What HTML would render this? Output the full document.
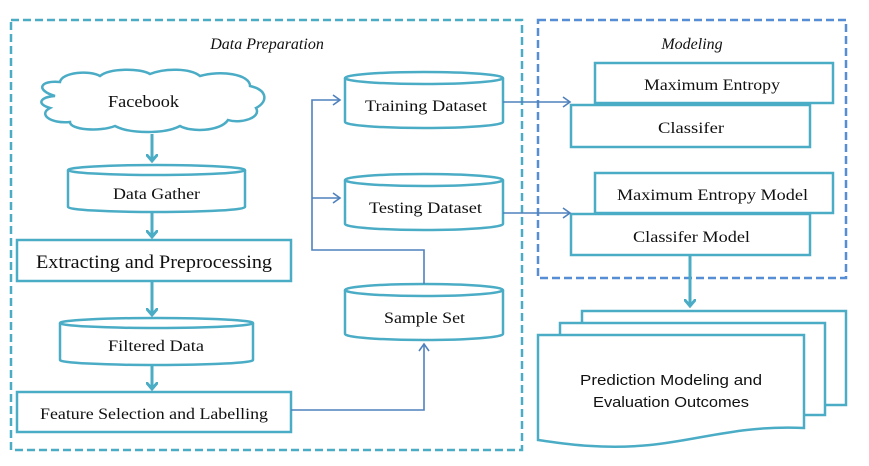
<!DOCTYPE html>
<html><head><meta charset="utf-8"><style>
html,body{margin:0;padding:0;background:#fff;}
svg{display:block;}
text{font-family:"Liberation Serif",serif;fill:#111;}
</style></head><body>
<svg width="869" height="466" viewBox="0 0 869 466" xmlns="http://www.w3.org/2000/svg">
<defs>
<marker id="ac" markerWidth="12" markerHeight="12" refX="6" refY="6" orient="auto" markerUnits="userSpaceOnUse"><path d="M0,0 L7,6 L0,12" fill="none" stroke="#4bacc6" stroke-width="3"/></marker>
<marker id="ab" markerWidth="12" markerHeight="12" refX="8" refY="6" orient="auto" markerUnits="userSpaceOnUse"><path d="M1,1 L8,6 L1,11" fill="none" stroke="#4f81bd" stroke-width="1.6"/></marker>
</defs>
<g fill="none">
<rect x="11" y="20" width="511" height="430" stroke="#4bacc6" stroke-width="2.5" stroke-dasharray="8,4"/>
<rect x="538" y="20" width="308" height="258" stroke="#558ed5" stroke-width="2.5" stroke-dasharray="8,4"/>
</g>
<text x="267" y="49" font-size="16" font-style="italic" text-anchor="middle">Data Preparation</text>
<text x="692" y="49" font-size="16" font-style="italic" text-anchor="middle">Modeling</text>
<path d="M55,96 C35,90 40,80 60,82 C62,72 90,70 100,76 C110,68 140,68 150,74 C165,68 190,68 200,76 C220,70 250,74 250,86 C268,90 268,102 256,108 C262,118 240,124 228,120 C220,132 190,132 180,126 C165,134 130,134 115,126 C100,132 70,130 70,122 C50,124 38,114 50,108 C36,104 40,97 55,96 Z" fill="#fff" stroke="#4bacc6" stroke-width="2.5"/>
<text x="108" y="107" font-size="17" textLength="71" lengthAdjust="spacingAndGlyphs">Facebook</text>
<g stroke="#4bacc6" stroke-width="3" fill="none">
<line x1="152" y1="134" x2="152" y2="160" marker-end="url(#ac)"/>
<line x1="152" y1="213" x2="152" y2="236" marker-end="url(#ac)"/>
<line x1="152" y1="282" x2="152" y2="314" marker-end="url(#ac)"/>
<line x1="152" y1="366" x2="152" y2="388" marker-end="url(#ac)"/>
<line x1="690" y1="256" x2="690" y2="305" marker-end="url(#ac)"/>
</g>
<g fill="#fff" stroke="#4bacc6" stroke-width="2.5">
<path d="M68,170 A88,5 0 0 1 245,170 L245,207 A88,5 0 0 1 68,207 Z"/><path d="M68,170 A88,5 0 0 0 245,170" fill="none"/>
<path d="M60,323 A96,5 0 0 1 253,323 L253,360 A96,5 0 0 1 60,360 Z"/><path d="M60,323 A96,5 0 0 0 253,323" fill="none"/>
<path d="M345,78 A79,6 0 0 1 503,78 L503,122 A79,6 0 0 1 345,122 Z"/><path d="M345,78 A79,6 0 0 0 503,78" fill="none"/>
<path d="M345,180 A79,6 0 0 1 503,180 L503,224 A79,6 0 0 1 345,224 Z"/><path d="M345,180 A79,6 0 0 0 503,180" fill="none"/>
<path d="M345,290 A79,6 0 0 1 503,290 L503,334 A79,6 0 0 1 345,334 Z"/><path d="M345,290 A79,6 0 0 0 503,290" fill="none"/>
<rect x="17" y="240" width="274" height="41"/>
<rect x="17" y="392" width="274" height="40"/>
<rect x="595" y="63" width="238" height="40"/>
<rect x="571" y="105" width="239" height="42"/>
<rect x="595" y="173" width="238" height="40"/>
<rect x="571" y="214" width="239" height="41"/>
<rect x="582" y="311" width="264" height="94"/>
<rect x="560" y="323" width="265" height="92"/>
<path d="M538,335 L804,335 L804,428 C740,425 700,440 650,445 C600,450 560,443 538,440 Z"/>
</g>
<g font-size="16" lengthAdjust="spacingAndGlyphs">
<text x="113" y="199" textLength="87" lengthAdjust="spacingAndGlyphs">Data Gather</text>
<text x="36" y="268" font-size="19" textLength="236" lengthAdjust="spacingAndGlyphs">Extracting and  Preprocessing</text>
<text x="108" y="351" textLength="96" lengthAdjust="spacingAndGlyphs">Filtered Data</text>
<text x="40" y="419" textLength="228" lengthAdjust="spacingAndGlyphs">Feature Selection and Labelling</text>
<text x="365" y="111" textLength="122" lengthAdjust="spacingAndGlyphs">Training  Dataset</text>
<text x="369" y="213" textLength="113" lengthAdjust="spacingAndGlyphs">Testing  Dataset</text>
<text x="384" y="323" textLength="81" lengthAdjust="spacingAndGlyphs">Sample Set</text>
<text x="644" y="90" textLength="136" lengthAdjust="spacingAndGlyphs">Maximum  Entropy</text>
<text x="658" y="133" textLength="66" lengthAdjust="spacingAndGlyphs">Classifer</text>
<text x="617" y="200" textLength="191" lengthAdjust="spacingAndGlyphs">Maximum Entropy  Model</text>
<text x="633" y="242" textLength="117" lengthAdjust="spacingAndGlyphs">Classifer Model</text>
</g>
<g font-size="15">
<text x="580" y="385" textLength="182" lengthAdjust="spacingAndGlyphs" style="font-family:'Liberation Sans',sans-serif">Prediction Modeling and</text>
<text x="593" y="407" textLength="156" lengthAdjust="spacingAndGlyphs" style="font-family:'Liberation Sans',sans-serif">Evaluation Outcomes</text>
</g>
<g stroke="#4f81bd" stroke-width="1.6" fill="none">
<polyline points="291,410 424,410 424,344" marker-end="url(#ab)"/>
<polyline points="424,284 424,250 312,250 312,100 340,100" marker-end="url(#ab)"/>
<line x1="312" y1="198" x2="340" y2="198" marker-end="url(#ab)"/>
<line x1="503" y1="102" x2="570" y2="102" marker-end="url(#ab)"/>
<line x1="503" y1="213" x2="570" y2="213" marker-end="url(#ab)"/>
</g>
</svg>
</body></html>
